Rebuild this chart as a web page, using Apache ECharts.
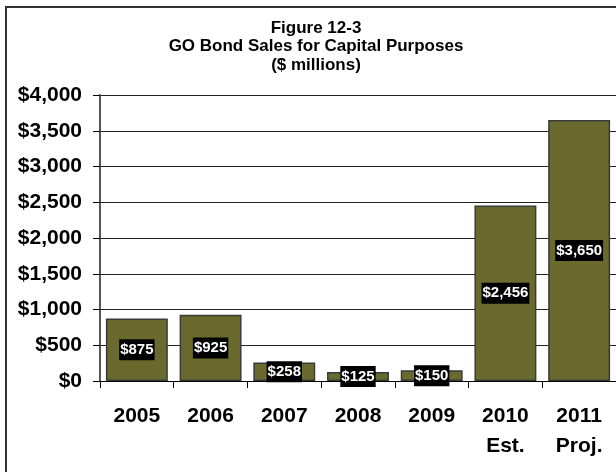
<!DOCTYPE html>
<html>
<head>
<meta charset="utf-8">
<script src="https://cdn.jsdelivr.net/npm/echarts@6/dist/echarts.min.js"></script>
<style>
  html, body { margin: 0; padding: 0; background: #fff; }
  #chart { width: 616px; height: 472px; }
</style>
</head>
<body>
<div id="chart"></div>
<script>
const categories = ['2005', '2006', '2007', '2008', '2009', '2010\nEst.', '2011\nProj.'];
const bondSales = [875, 925, 258, 125, 150, 2456, 3650];
const yTicks = [0, 500, 1000, 1500, 2000, 2500, 3000, 3500, 4000];
const titleLines = ['Figure 12-3', 'GO Bond Sales for Capital Purposes', '($ millions)'];

const FONT = '"Liberation Sans", Arial, sans-serif';
const fmt = v => '$' + v.toLocaleString('en-US');

const chart = echarts.init(document.getElementById('chart'), null, { renderer: 'canvas' });
chart.setOption({
  animation: false,
  backgroundColor: '#ffffff',
  title: {
    text: titleLines.join('\n'),
    left: 311,
    top: 14,
    textAlign: 'center',
    textStyle: { fontFamily: FONT, fontWeight: 'bold', fontSize: 17, lineHeight: 18.5, color: '#000' }
  },
  graphic: [{
    type: 'rect',
    shape: { x: 6, y: 7, width: 700, height: 600 },
    style: { fill: 'none', stroke: '#333', lineWidth: 2 },
    silent: true
  }],
  grid: { left: 100, right: -4, top: 95, bottom: 91, containLabel: false },
  xAxis: {
    type: 'category',
    data: categories,
    axisLine: { lineStyle: { color: '#000', width: 1 } },
    axisTick: { show: true, length: 7, lineStyle: { color: '#000' } },
    axisLabel: {
      fontFamily: FONT, fontWeight: 'bold', fontSize: 21, color: '#000',
      lineHeight: 30, margin: 20, interval: 0
    }
  },
  yAxis: {
    type: 'value',
    min: yTicks[0],
    max: yTicks[yTicks.length - 1],
    interval: 500,
    axisLine: { show: true, lineStyle: { color: '#555', width: 2 } },
    axisTick: { show: true, length: 7, lineStyle: { color: '#000' } },
    splitLine: { show: true, lineStyle: { color: '#222', width: 1 } },
    axisLabel: {
      fontFamily: FONT, fontWeight: 'bold', fontSize: 21, color: '#000',
      margin: 18, formatter: v => fmt(v)
    }
  },
  series: [{
    type: 'bar',
    data: bondSales,
    barCategoryGap: '16%',
    itemStyle: { color: '#6b6a2e', borderColor: '#3a3a3a', borderWidth: 1.5 },
    label: {
      show: true,
      position: 'inside',
      formatter: p => fmt(p.value),
      fontFamily: FONT, fontWeight: 'bold', fontSize: 15, color: '#fff',
      backgroundColor: '#000', padding: [3, 1, 3, 1]
    }
  }]
});
</script>
</body>
</html>
